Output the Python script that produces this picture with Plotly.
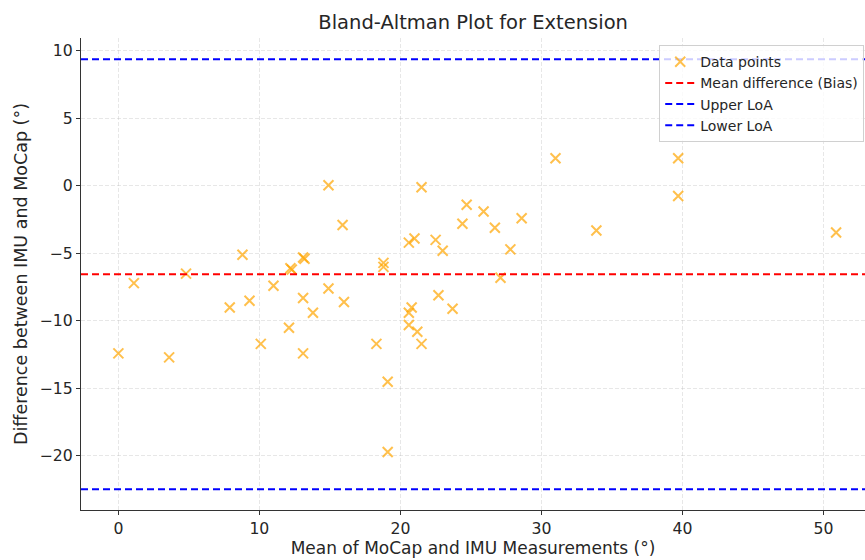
import plotly.graph_objects as go

# Means of MoCap and IMU (x) and differences IMU - MoCap (y)
mean_vals = [0.0, 1.1, 3.6, 4.8, 7.9, 8.8, 9.3, 10.1, 11.0, 12.1,
             12.2, 12.3, 13.1, 13.2, 13.1, 13.1, 13.8, 14.9, 14.9, 15.9,
             16.0, 18.8, 18.8, 18.3, 19.1, 19.1, 21.5, 20.6, 21.0, 22.5,
             23.0, 24.4, 24.7, 25.9, 26.7, 27.8, 28.6, 27.1, 22.7, 23.7,
             20.8, 20.6, 20.6, 21.2, 21.5, 31.0, 33.9, 39.7, 39.7, 50.9]
diff_vals = [-12.4, -7.2, -12.7, -6.5, -9.0, -5.1, -8.5, -11.7, -7.4, -10.5,
             -6.1, -6.2, -5.3, -5.4, -8.3, -12.4, -9.4, 0.05, -7.6, -2.9,
             -8.6, -5.7, -6.0, -11.7, -14.5, -19.7, -0.1, -4.2, -3.9, -4.0,
             -4.8, -2.8, -1.4, -1.9, -3.1, -4.7, -2.4, -6.8, -8.1, -9.1,
             -9.0, -9.4, -10.3, -10.8, -11.7, 2.05, -3.3, 2.05, -0.75, -3.45]

bias = -6.55
upper_loa = 9.37
lower_loa = -22.47

x_range = [-2.65, 52.95]
y_range = [-24.0, 10.95]
x_ticks = [0, 10, 20, 30, 40, 50]
y_ticks = [-20, -15, -10, -5, 0, 5, 10]

font_family = "DejaVu Sans"
text_color = "#262626"

fig = go.Figure()

fig.add_trace(go.Scatter(
    x=mean_vals, y=diff_vals, mode="markers", name="Data points",
    marker=dict(symbol="x-thin", size=10,
                line=dict(width=2, color="rgba(255,165,0,0.7)"),
                color="rgba(255,165,0,0.7)"),
))

line_specs = [
    ("Mean difference (Bias)", bias, "#ff0000"),
    ("Upper LoA", upper_loa, "#0000ff"),
    ("Lower LoA", lower_loa, "#0000ff"),
]
for name, val, col in line_specs:
    fig.add_trace(go.Scatter(
        x=[x_range[0], x_range[1]], y=[val, val], mode="lines", name=name,
        line=dict(color=col, width=2, dash="7px,4px"),
        hoverinfo="skip",
    ))

fig.update_layout(
    width=865, height=560,
    margin=dict(l=81, r=0, t=38, b=50, autoexpand=False),
    paper_bgcolor="white", plot_bgcolor="white",
    font=dict(family=font_family, size=14, color=text_color),
    title=dict(text="Bland-Altman Plot for Extension", x=0.547, xanchor="center",
               y=0.961, yanchor="middle",
               font=dict(size=19.5, color=text_color, family=font_family)),
    showlegend=True,
    legend=dict(x=0.999, xanchor="right", y=0.985, yanchor="top",
                bgcolor="rgba(255,255,255,0.8)", bordercolor="#d0d0d0", borderwidth=1,
                font=dict(size=14, color=text_color, family=font_family),
                tracegroupgap=0),
)

fig.update_xaxes(
    range=x_range, tickvals=x_ticks, showgrid=True, automargin=False,
    gridcolor="rgba(176,176,176,0.3)", griddash="4px,2px", gridwidth=1,
    zeroline=False, showline=True, linecolor="#333333", linewidth=1.3,
    ticks="outside", ticklen=4, tickcolor="#333333",
    title=dict(text="Mean of MoCap and IMU Measurements (°)", standoff=3,
               font=dict(size=17, color=text_color)),
    tickfont=dict(size=15.7, color=text_color),
)
fig.update_yaxes(
    range=y_range, tickvals=y_ticks, showgrid=True, automargin=False,
    gridcolor="rgba(176,176,176,0.3)", griddash="4px,2px", gridwidth=1,
    zeroline=False, showline=True, linecolor="#333333", linewidth=1.3,
    ticks="outside", ticklen=4, tickcolor="#333333",
    title=dict(text="Difference between IMU and MoCap (°)", standoff=7,
               font=dict(size=17.5, color=text_color)),
    tickfont=dict(size=15.7, color=text_color),
)

# remove the default page margin so the figure sits at the window's corner
fig.write_html("out.html", config={"displayModeBar": False},
               post_script="document.body.style.margin='0';document.body.style.overflow='hidden';")
